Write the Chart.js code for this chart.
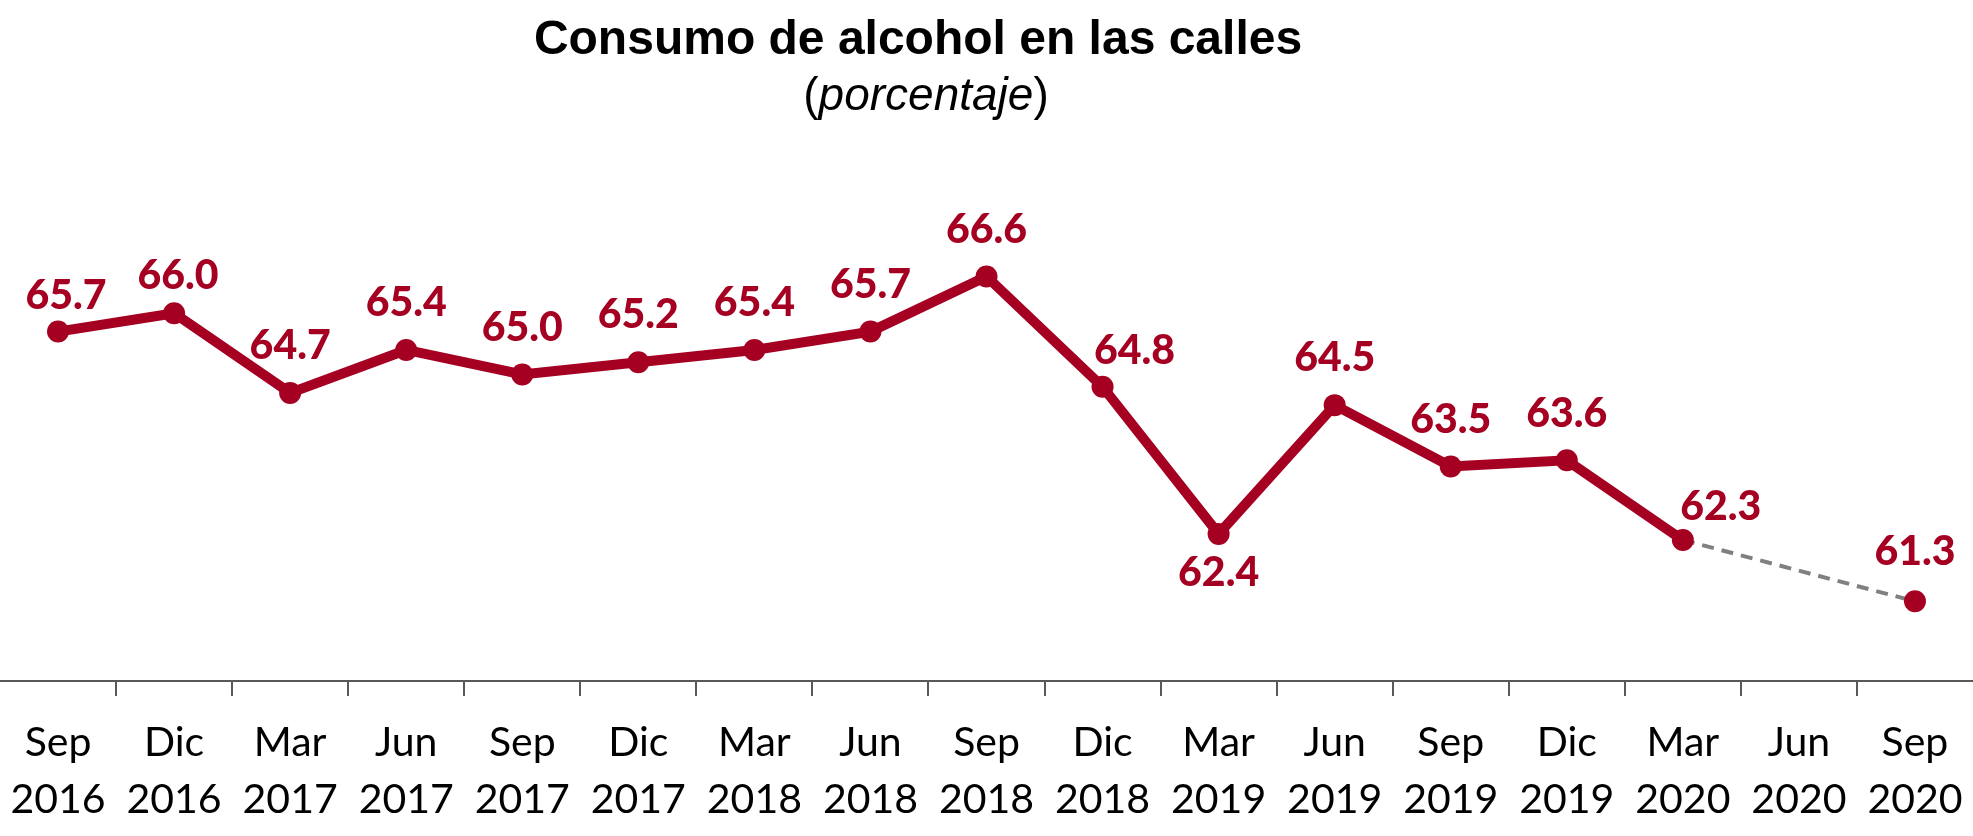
<!DOCTYPE html>
<html>
<head>
<meta charset="utf-8">
<script src="https://cdn.jsdelivr.net/npm/chart.js@4.4.0/dist/chart.umd.min.js"></script>
<style>
  html, body { margin: 0; padding: 0; background: #fff; }
  canvas { display: block; }
</style>
</head>
<body>
<canvas id="chart" width="1973" height="836"></canvas>
<script>
const months = ["Sep", "Dic", "Mar", "Jun", "Sep", "Dic", "Mar", "Jun", "Sep", "Dic", "Mar", "Jun", "Sep", "Dic", "Mar", "Jun", "Sep"];
const years = ["2016", "2016", "2017", "2017", "2017", "2017", "2018", "2018", "2018", "2018", "2019", "2019", "2019", "2019", "2020", "2020", "2020"];
const consumo = [65.7, 66.0, 64.7, 65.4, 65.0, 65.2, 65.4, 65.7, 66.6, 64.8, 62.4, 64.5, 63.5, 63.6, 62.3, null, 61.3];

const red = "#A50021";
const gray = "#808080";
const axisColor = "#595959";

// label offsets from the point, [dx, dy]; everything else goes straight above
const labelShift = {
  0: [8, -36],
  1: [4, -37],
  9: [32, -36],
  10: [0, 39],
  14: [38, -33],
  16: [0, -50],
};

const labels = months.map((m, i) => [m, years[i]]);

// the segment that jumps over the missing quarter is the estimate
const isGap = (c) => consumo[c.p0DataIndex] === null;

const titlePlugin = {
  id: "titulo",
  afterDraw(chart) {
    const ctx = chart.ctx;
    ctx.save();
    ctx.fillStyle = "#000";
    ctx.textBaseline = "middle";
    ctx.textAlign = "center";
    ctx.font = "bold 48px 'Liberation Sans', Arial, sans-serif";
    ctx.fillText("Consumo de alcohol en las calles", 918, 41);

    // subtitle: only the word is italic, not the brackets
    const normal = "46px 'Liberation Sans', Arial, sans-serif";
    const italic = "italic 46px 'Liberation Sans', Arial, sans-serif";
    const parts = [["(", normal], ["porcentaje", italic], [")", normal]];
    let total = 0;
    parts.forEach(([t, f]) => { ctx.font = f; total += ctx.measureText(t).width; });
    let x = 926 - total / 2;
    ctx.textAlign = "left";
    parts.forEach(([t, f]) => {
      ctx.font = f;
      ctx.fillText(t, x, 97);
      x += ctx.measureText(t).width;
    });
    ctx.restore();
  },
};

const valueLabels = {
  id: "valueLabels",
  afterDatasetsDraw(chart) {
    const ctx = chart.ctx;
    const meta = chart.getDatasetMeta(0);
    ctx.save();
    ctx.font = "900 41px Lato, 'Open Sans', sans-serif";
    ctx.fillStyle = red;
    ctx.textAlign = "center";
    ctx.textBaseline = "middle";
    meta.data.forEach((pt, i) => {
      const v = consumo[i];
      if (v === null) return;
      const [dx, dy] = labelShift[i] || [0, -47];
      ctx.fillText(v.toFixed(1), pt.x + dx, pt.y + dy);
    });
    ctx.restore();
  },
};

new Chart(document.getElementById("chart"), {
  type: "line",
  data: {
    labels: labels,
    datasets: [
      {
        data: consumo,
        borderColor: red,
        borderWidth: 10,
        pointRadius: 11,
        pointHoverRadius: 11,
        pointBackgroundColor: red,
        pointBorderWidth: 0,
        spanGaps: true,
        tension: 0,
        segment: {
          borderColor: (c) => (isGap(c) ? gray : undefined),
          borderDash: (c) => (isGap(c) ? [12, 8] : undefined),
          borderWidth: (c) => (isGap(c) ? 4 : undefined),
        },
      },
    ],
  },
  options: {
    responsive: false,
    animation: false,
    devicePixelRatio: 1,
    layout: {
      autoPadding: false,
      padding: { top: 68, bottom: 0, left: 0, right: 0 },
    },
    plugins: {
      legend: { display: false },
      title: { display: false },
      tooltip: { enabled: false },
    },
    scales: {
      x: {
        offset: true,
        grid: {
          offset: true,
          drawOnChartArea: false,
          drawTicks: true,
          tickLength: 15,
          lineWidth: 2,
          color: (c) => (c.type === "tick" && c.index > 0 ? axisColor : "rgba(0,0,0,0)"),
        },
        border: { display: true, color: axisColor, width: 2 },
        ticks: {
          color: "#000",
          padding: 18,
          maxRotation: 0,
          autoSkip: false,
          font: { family: "Lato, 'Open Sans', sans-serif", size: 41, lineHeight: "57px" },
        },
        afterFit(scale) {
          // run the axis edge to edge like the original
          scale.paddingLeft = 0;
          scale.paddingRight = 0;
          scale.height = 155;
        },
      },
      y: {
        display: false,
        min: 60,
        max: 70,
      },
    },
  },
  plugins: [titlePlugin, valueLabels],
});
</script>
</body>
</html>
